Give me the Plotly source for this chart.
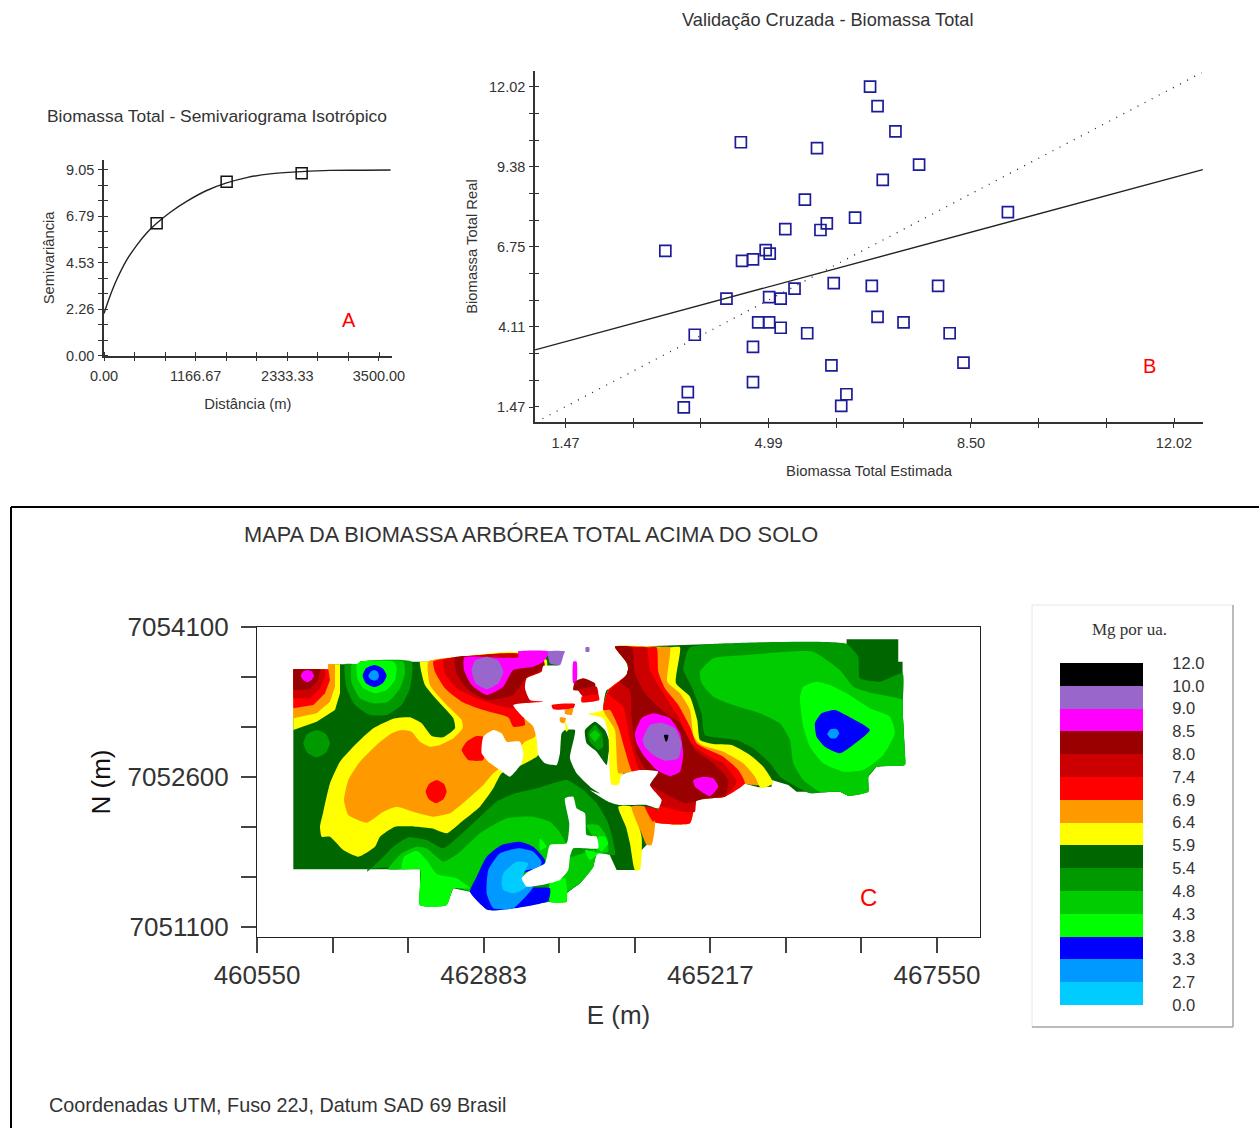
import plotly.graph_objects as go

W, H = 1259, 1128

# ---------- A: semivariogram ----------
model_dist = [0, 76, 161, 288, 416, 543, 670, 840, 1052, 1307, 1561, 1816, 2113, 2516, 2876, 3300, 3648]
model_gamma = [2.06, 2.90, 3.70, 4.66, 5.38, 5.98, 6.45, 6.98, 7.52, 8.05, 8.42, 8.68, 8.86, 8.97, 9.03, 9.04, 9.05]
lag_dist = [670, 1561, 2516]
lag_gamma = [6.45, 8.48, 8.89]
a_xticks = [0, 388.89, 777.78, 1166.67, 1555.56, 1944.44, 2333.33, 2722.22, 3111.11, 3500]
a_xtext = ["0.00", "", "", "1166.67", "", "", "2333.33", "", "", "3500.00"]
a_yticks = [0, 0.754, 1.508, 2.26, 3.017, 3.771, 4.53, 5.279, 6.033, 6.79, 7.542, 8.296, 9.05]
a_ytext = ["0.00", "", "", "2.26", "", "", "4.53", "", "", "6.79", "", "", "9.05"]

# ---------- B: cross validation ----------
est = [6.75, 6.88, 7.19, 4.51, 5.83, 7.60, 6.97, 5.62, 6.49, 6.00, 5.89, 5.28, 9.14, 3.20, 4.94, 5.01, 4.72, 4.53,
       6.78, 7.93, 6.12, 5.44, 5.00, 5.20, 4.26, 6.88, 7.33, 4.81, 5.00, 5.20, 5.66, 3.71, 8.13, 4.72, 8.37, 6.08,
       4.72, 3.59, 6.34, 3.52, 6.25]
real = [12.02, 11.38, 10.55, 10.19, 10.00, 9.45, 8.95, 8.30, 7.71, 7.52, 7.30, 7.33, 7.89, 6.61, 6.64, 6.52, 6.33, 6.28,
        5.46, 5.46, 5.55, 5.37, 5.09, 5.04, 5.04, 4.44, 4.26, 4.26, 4.26, 4.08, 3.90, 3.85, 3.90, 3.45, 2.93, 2.84,
        2.29, 1.96, 1.89, 1.46, 1.51]
reg_x = [0.94, 12.52]
reg_y = [3.35, 9.29]
ident_x = [1.07, 12.50]
ident_y = [1.085, 12.48]
b_xticks = [1.47, 2.642, 3.814, 4.99, 6.16, 7.33, 8.50, 9.67, 10.85, 12.02]
b_xtext = ["1.47", "", "", "4.99", "", "", "8.50", "", "", "12.02"]
b_yticks = [1.47, 2.349, 3.228, 4.11, 4.987, 5.866, 6.75, 7.625, 8.50, 9.38, 10.26, 11.14, 12.02]
b_ytext = ["1.47", "", "", "4.11", "", "", "6.75", "", "", "9.38", "", "", "12.02"]

# ---------- C: map classes ----------
class_edges = ["0.0", "2.7", "3.3", "3.8", "4.3", "4.8", "5.4", "5.9", "6.4", "6.9", "7.4", "8.0", "8.5", "9.0", "10.0", "12.0"]
class_colors = ["#00ccff", "#0099ff", "#0000ff", "#00ff00", "#00cc00", "#009900", "#006600",
                "#ffff00", "#ff9900", "#ff0000", "#cc0000", "#990000", "#ff00ff", "#9966cc", "#000000"]
c_xticks = [460550, 461328, 462106, 462883, 463661, 464439, 465217, 465994, 466772, 467550]
c_xtext = ["460550", "", "", "462883", "", "", "465217", "", "", "467550"]
c_yticks = [7051100, 7051600, 7052100, 7052600, 7053100, 7053600, 7054100]
c_ytext = ["7051100", "", "", "7052600", "", "", "7054100"]

SHEET_E0, SHEET_N0, SHEET_DE, SHEET_DN = 460786.8, 7054070.0, 3.431, 3.3333
EAST_SHEET = 930  # second sheet starts 930 units to the east

DG, MG, LG, BG = "#006600", "#009900", "#00cc00", "#00ff00"
BL, SB, CY = "#0000ff", "#0099ff", "#00ccff"
YE, OR, RE, CR, DR, MA, PU, BK = "#ffff00", "#ff9900", "#ff0000", "#cc0000", "#990000", "#ff00ff", "#9966cc", "#000000"
NO = "#ffffff"  # no data

west_layers = [
 (DG, [(40,118),(145,118),(145,103),(240,103),(240,95),(440,95),(525,82),(715,82),(715,65),(855,65),(1010,52),(1298,42),(1700,42),(1700,28),(1855,28),(1855,95),(1868,95),(1868,235),(1875,370),(1875,405),(1790,410),(1765,440),(1765,485),(1705,497),(1680,485),(1550,485),(1525,465),(1475,450),(1475,470),(1435,472),(1390,460),(1335,500),(1250,510),(1230,580),(1125,575),(1105,640),(1080,665),(1065,720),(1010,720),(985,665),(950,670),(940,710),(900,760),(860,790),(860,815),(810,815),(625,840),(570,785),(520,775),(500,825),(420,825),(420,718),(40,718)]),
 (YE, [(40,300),(110,275),(165,240),(180,190),(180,103),(145,103),(145,118),(40,118)]),
 (OR, [(40,265),(110,250),(150,215),(165,170),(165,103),(145,103),(145,118),(40,118)]),
 (RE, [(40,235),(100,225),(135,190),(150,150),(145,118),(40,118)]),
 (CR, [(40,205),(90,205),(120,175),(135,140),(135,118),(40,118)]),
 (DR, [(40,180),(90,178),(115,150),(120,118),(40,118)]),
 (MA, [(62,138),(70,124),(82,120),(95,124),(102,138),(95,150),(82,157),(70,150)]),
 (MG, [(195,103),(200,175),(225,225),(270,255),(320,255),(365,225),(390,175),(395,95),(240,95),(240,103)]),
 (LG, [(215,103),(215,160),(240,205),(280,220),(325,215),(360,175),(375,130),(370,95),(240,95),(240,103)]),
 (BG, [(230,103),(232,145),(250,175),(285,190),(320,180),(345,150),(350,110),(340,95),(240,95)]),
 (BL, [(248,137),(258,115),(283,105),(308,115),(320,137),(308,160),(283,172),(258,160)]),
 (SB, [(265,137),(272,125),(283,120),(293,125),(297,137),(293,148),(283,152),(272,148)]),
 (MG, [(70,340),(82,312),(110,300),(138,312),(150,340),(138,368),(110,382),(82,368)]),
 (YE, [(420,95),(435,165),(480,220),(520,265),(525,295),(490,322),(455,318),(425,280),(390,262),(345,265),(280,295),(225,345),(180,395),(150,460),(130,545),(120,590),(125,620),(150,620),(190,660),(235,680),(285,650),(300,620),(345,590),(410,590),(455,595),(500,610),(545,575),(600,530),(640,475),(665,430),(725,405),(775,375),(775,250),(800,90),(700,65),(525,82),(440,95)]),
 (OR, [(445,95),(450,165),(500,225),(545,270),(548,295),(520,325),(480,345),(450,350),(420,335),(395,305),(365,300),(335,310),(290,345),(240,395),(205,450),(192,510),(205,555),(260,578),(310,545),(350,530),(400,545),(460,560),(510,550),(560,510),(610,465),(640,430),(680,400),(735,335),(765,320),(780,250),(790,90),(700,70),(520,82)]),
 (RE, [(460,95),(465,125),(495,175),(545,215),(610,240),(685,262),(700,290),(735,285),(730,240),(790,225),(790,90),(700,70),(525,82)]),
 (CR, [(490,90),(495,130),(530,175),(590,205),(650,225),(705,235),(745,215),(790,205),(790,90),(700,70),(525,82)]),
 (DR, [(525,82),(530,130),(560,175),(620,210),(700,195),(740,140),(765,130),(790,110),(790,90),(715,65),(715,82)]),
 (MA, [(553,82),(552,120),(575,165),(620,195),(670,170),(700,120),(760,110),(790,95),(810,65),(715,65),(715,82)]),
 (PU, [(575,120),(585,92),(620,80),(655,92),(670,125),(655,160),(620,178),(587,160)]),
 (PU, [(805,65),(855,65),(840,105),(810,100)]),
 (RE, [(437,485),(447,462),(470,450),(492,462),(500,485),(490,508),(468,520),(447,508)]),
 (RE, [(545,360),(560,335),(590,318),(615,322),(610,390),(565,390)]),
 (MG, [(262,725),(300,690),(340,650),(385,622),(440,630),(490,655),(530,625),(590,570),(650,515),(700,492),(770,475),(860,450),(910,480),(950,520),(985,580),(1005,675),(950,670),(940,710),(900,760),(860,790),(860,815),(810,815),(625,840),(570,785),(520,775),(500,825),(420,825),(420,718),(262,718)]),
 (LG, [(325,718),(365,670),(410,650),(440,655),(490,695),(535,670),(600,610),(680,565),(760,560),(810,575),(835,600),(860,650),(800,700),(625,840),(570,785),(520,775),(500,825),(420,825),(420,718)]),
 (LG, [(880,680),(945,660),(940,710),(900,760),(860,790),(860,815),(810,815),(810,760),(840,750),(865,720),(870,680)]),
 (LG, [(920,585),(955,585),(980,620),(985,665),(950,670),(950,640)]),
 (BG, [(365,718),(372,680),(410,662),(440,690),(470,732),(530,745),(570,775),(520,775),(500,825),(420,825),(420,718)]),
 (BG, [(810,760),(855,745),(860,815),(810,815)]),
 (BG, [(915,660),(955,670),(930,690)]),
 (BG, [(955,620),(975,620),(985,640),(965,665),(955,655)]),
 (BG, [(780,625),(800,650),(780,660)]),
 (BL, [(570,785),(590,740),(620,680),(665,645),(720,635),(760,650),(795,690),(790,715),(730,730),(740,770),(810,775),(805,812),(625,840)]),
 (SB, [(620,790),(625,720),(660,670),(715,655),(760,665),(785,695),(780,712),(730,725),(730,765),(760,770),(700,835),(640,835)]),
 (CY, [(665,760),(670,730),(710,695),(745,700),(730,735),(740,770),(700,790),(670,780)]),
 (NO, [(610,320),(640,300),(665,310),(680,335),(720,335),(730,370),(725,400),(690,440),(660,420),(625,395),(605,370)]),
 (NO, [(855,505),(880,500),(890,535),(915,550),(920,615),(950,620),(955,655),(880,655),(870,680),(865,720),(840,750),(810,760),(740,770),(725,745),(745,725),(795,700),(810,645),(860,640),(868,580)]),
 (NO, [(740,145),(785,125),(790,108),(840,105),(855,65),(880,52),(1010,50),(1040,100),(1045,125),(1005,170),(980,180),(970,235),(1000,300),(1000,400),(1020,470),(1015,520),(960,490),(930,470),(890,430),(870,385),(885,300),(855,300),(845,310),(840,370),(830,405),(795,400),(775,375),(770,325),(760,290),(730,262),(700,225),(790,215),(750,210),(735,175)]),
 (MA, [(880,95),(890,95),(890,155),(880,160)]),
 (DR, [(880,180),(885,155),(910,145),(945,160),(945,180)]),
 (CR, [(895,180),(950,170),(955,200),(910,200)]),
 (RE, [(905,200),(955,195),(958,210),(905,217)]),
 (RE, [(815,225),(885,222),(880,235),(820,238)]),
 (OR, [(855,240),(880,235),(875,255),(855,252)]),
 (OR, [(840,262),(858,265),(852,280),(840,275)]),
 (YE, [(855,270),(865,300),(858,305)]),
 (PU, [(917,52),(928,52),(928,65),(917,65)]),
 (DG, [(915,300),(945,275),(975,300),(990,340),(985,375),(980,405),(950,365),(920,340)]),
 (MG, [(925,310),(945,285),(965,310),(970,350),(955,360),(930,335)]),
 (LG, [(930,315),(945,300),(960,315),(945,335)]),
]

east_layers = [
 (MG, [(300,52),(368,42),(770,42),(805,80),(810,145),(870,155),(938,130),(938,235),(945,370),(945,405),(860,410),(835,440),(835,485),(775,497),(750,485),(660,490),(620,470),(570,440),(540,400),(490,355),(440,330),(345,315),(335,250),(305,170),(280,120),(290,70)]),
 (LG, [(330,125),(370,85),(470,75),(590,65),(670,65),(750,120),(790,170),(850,190),(938,210),(938,235),(945,370),(945,405),(860,410),(835,440),(835,485),(775,497),(750,485),(690,485),(640,450),(610,400),(600,330),(570,280),(510,250),(430,225),(370,200),(335,160)]),
 (BG, [(630,200),(640,170),(680,155),(720,165),(770,190),(840,235),(900,260),(915,310),(880,375),(820,420),(760,425),(700,400),(660,350),(640,290),(632,230)]),
 (BL, [(675,280),(695,250),(735,240),(780,262),(840,300),(790,345),(750,370),(705,350),(680,320)]),
 (SB, [(712,312),(722,298),(740,297),(748,310),(738,325),(722,325)]),
 (YE, [(240,52),(270,52),(258,160),(300,200),(322,270),(330,330),(370,342),(425,345),(480,375),(520,410),(550,460),(515,475),(500,460),(460,462),(405,500),(320,510),(300,580),(190,575),(205,540),(215,510),(180,470),(205,425),(100,430),(85,465),(65,465),(58,400),(55,310),(40,265),(-5,252),(40,240),(55,180),(110,135),(115,105),(75,50)]),
 (OR, [(200,52),(240,52),(232,155),(270,190),(300,240),(312,320),(335,345),(400,365),(460,400),(495,440),(505,465),(460,462),(405,500),(320,510),(300,580),(190,575),(205,540),(215,510),(180,470),(205,425),(100,430),(85,430),(75,300),(40,240),(55,180),(110,135),(115,105),(75,50)]),
 (RE, [(170,52),(200,52),(205,125),(225,175),(265,225),(300,290),(320,340),(345,355),(400,380),(445,420),(465,460),(405,500),(320,510),(300,580),(190,575),(205,540),(215,510),(180,470),(205,425),(130,430),(105,360),(85,290),(60,240),(40,240),(55,180),(110,135),(115,105),(75,50)]),
 (CR, [(125,52),(170,52),(180,120),(220,190),(265,260),(305,340),(350,375),(400,400),(440,455),(405,500),(320,510),(315,545),(280,545),(190,520),(215,510),(180,470),(205,425),(150,420),(120,330),(100,230),(55,190),(110,135),(115,105),(75,50)]),
 (DR, [(75,50),(125,52),(135,130),(165,190),(215,240),(270,280),(315,360),(370,400),(415,450),(405,495),(345,505),(290,520),(215,485),(180,465),(205,425),(170,420),(140,370),(125,260),(120,180),(90,155),(110,135),(115,105)]),
 (MA, [(135,310),(155,265),(190,250),(240,265),(270,310),(280,370),(270,425),(240,438),(200,420),(160,375),(140,340)]),
 (PU, [(158,330),(180,285),(215,278),(255,295),(275,340),(265,385),(225,392),(190,375),(165,350)]),
 (BK, [(222,315),(235,315),(232,332),(228,335)]),
 (MA, [(310,450),(340,440),(370,445),(385,470),(360,498),(335,485),(315,470)]),
 (YE, [(85,530),(125,530),(155,620),(150,720),(135,720),(120,640),(108,590)]),
 (OR, [(125,530),(165,530),(195,575),(185,645),(170,645),(155,610)]),
 (RE, [(165,530),(190,575),(205,540)]),
 (NO, [(85,465),(95,435),(150,420),(205,425),(180,465),(215,510),(205,535),(170,525),(90,525),(55,515),(0,480),(30,490),(65,465)]),
]


def to_en(points, offset=0):
    xs = [SHEET_E0 + (p[0] + offset) * SHEET_DE for p in points]
    ys = [SHEET_N0 - p[1] * SHEET_DN for p in points]
    return xs + xs[:1], ys + ys[:1]


def hdom(a, b):
    return [a / W, b / W]


def vdom(top, bottom):
    return [1 - bottom / H, 1 - top / H]


FONT = "Liberation Sans"
INK = "#333333"
fig = go.Figure()

# A
fig.add_trace(go.Scatter(x=model_dist, y=model_gamma, mode="lines", line=dict(color="#222222", width=1.4, shape="spline"),
                         xaxis="x", yaxis="y", showlegend=False))
fig.add_trace(go.Scatter(x=lag_dist, y=lag_gamma, mode="markers", marker=dict(symbol="square-open", size=11, color="#111111", line=dict(width=1.5)),
                         xaxis="x", yaxis="y", showlegend=False))
# B
fig.add_trace(go.Scatter(x=ident_x, y=ident_y, mode="lines", line=dict(color="#222222", width=1.3, dash="1px,7px"),
                         xaxis="x2", yaxis="y2", showlegend=False))
fig.add_trace(go.Scatter(x=reg_x, y=reg_y, mode="lines", line=dict(color="#222222", width=1.4),
                         xaxis="x2", yaxis="y2", showlegend=False))
fig.add_trace(go.Scatter(x=est, y=real, mode="markers", marker=dict(symbol="square-open", size=11, color="#1c1c99", line=dict(width=1.7)),
                         xaxis="x2", yaxis="y2", showlegend=False))
# C: outlines touching the map's square edge keep their corners, the rest are contours
for color, pts, off in [(c, p, 0) for c, p in west_layers] + [(c, p, EAST_SHEET) for c, p in east_layers]:
    xs, ys = to_en(pts, off)
    square = off == 0 and pts[0][0] == 40
    line = dict(width=0, color=color) if square else dict(width=0, color=color, shape="spline", smoothing=0.5)
    fig.add_trace(go.Scatter(x=xs, y=ys, mode="lines", fill="toself", fillcolor=color, line=line,
                             hoverinfo="skip", xaxis="x3", yaxis="y3", showlegend=False))
# Legend
n = len(class_colors)
scale = []
for i, c in enumerate(class_colors):
    scale += [[i / n, c], [(i + 1) / n, c]]
fig.add_trace(go.Heatmap(z=[[i + 0.5] for i in range(n)], x=[0], y=list(range(n)), colorscale=scale, zmin=0, zmax=n,
                         showscale=False, xaxis="x4", yaxis="y4", hoverinfo="skip"))


def small_axis(dom, rng, ticks, text, title, standoff, anchor, label_gap=0):
    # second tick set sits a hair off the first so the ticks cross the axis line
    nudge = (rng[1] - rng[0]) * 1e-4
    return dict(domain=dom, range=rng, anchor=anchor, automargin=False, tickmode="array", tickvals=ticks, ticktext=text,
                ticks="outside", ticklen=4, tickwidth=1.4, tickcolor=INK, showline=True, linecolor=INK, linewidth=1.5,
                showgrid=False, zeroline=False, tickfont=dict(family=FONT, size=14.5, color=INK), ticklabelstandoff=label_gap,
                title=dict(text=title, font=dict(family=FONT, size=14.8, color=INK), standoff=standoff),
                minor=dict(ticks="inside", ticklen=4, tickwidth=1.4, tickcolor=INK, tickmode="array",
                           tickvals=[t + nudge for t in ticks], showgrid=False))


def note(text, x, y, size, color=INK, family=FONT, xanchor="center"):
    return dict(text=text, xref="paper", yref="paper", x=x / W, y=1 - y / H, xanchor=xanchor, yanchor="middle",
                showarrow=False, font=dict(family=family, size=size, color=color))


layout = dict(
    width=W, height=H, margin=dict(l=0, r=0, t=0, b=0, autoexpand=False), autosize=False, template="none",
    paper_bgcolor="white", plot_bgcolor="white", showlegend=False,
    xaxis=small_axis(hdom(104, 391.7), [0, 3662], a_xticks, a_xtext, "Distância (m)", 16, "y", 2),
    yaxis=small_axis(vdom(160, 355.7), [0, 9.537], a_yticks, a_ytext, "Semivariância", 8, "x", 1),
    xaxis2=small_axis(hdom(535, 1203), [0.94, 12.523], b_xticks, b_xtext, "Biomassa Total Estimada", 15, "y2", 3),
    yaxis2=small_axis(vdom(71, 422), [0.976, 12.537], b_yticks, b_ytext, "Biomassa Total Real", 8, "x2", 1),
    xaxis3=dict(domain=hdom(257, 980), range=[460550, 467993], anchor="y3", automargin=False, tickmode="array", tickvals=c_xticks, ticktext=c_xtext,
                ticks="outside", ticklen=15, tickwidth=1.5, tickcolor="#444444", showline=True, linecolor="#222222", linewidth=1, mirror=True,
                showgrid=False, zeroline=False, tickfont=dict(family=FONT, size=26, color=INK),
                title=dict(text="E (m)", font=dict(family=FONT, size=26, color=INK), standoff=16)),
    yaxis3=dict(domain=vdom(627, 937), range=[7051000, 7054100], anchor="x3", automargin=False, tickmode="array", tickvals=c_yticks, ticktext=c_ytext,
                ticks="outside", ticklen=15, tickwidth=1.5, tickcolor="#444444", showline=True, linecolor="#222222", linewidth=1, mirror=True,
                showgrid=False, zeroline=False, tickfont=dict(family=FONT, size=26, color=INK), ticklabelstandoff=7,
                title=dict(text="N (m)", font=dict(family=FONT, size=26, color="#111111"), standoff=9)),
    xaxis4=dict(domain=hdom(1060, 1143), anchor="y4", visible=False, range=[-0.5, 0.5]),
    yaxis4=dict(domain=vdom(663, 1005), range=[-0.5, n - 0.5], anchor="x4", side="right", automargin=False, tickmode="array",
                tickvals=[i - 0.5 for i in range(n + 1)], ticktext=class_edges, ticks="outside", ticklen=25, tickcolor="rgba(0,0,0,0)",
                showline=False, showgrid=False, zeroline=False, tickfont=dict(family=FONT, size=16.5, color=INK)),
    shapes=[
        dict(type="line", xref="paper", yref="paper", x0=11 / W, x1=1, y0=1 - 507 / H, y1=1 - 507 / H, line=dict(color="black", width=2)),
        dict(type="line", xref="paper", yref="paper", x0=11 / W, x1=11 / W, y0=0, y1=1 - 507 / H, line=dict(color="black", width=2)),
        dict(type="rect", xref="paper", yref="paper", x0=1032 / W, x1=1233 / W, y0=1 - 1027 / H, y1=1 - 605 / H,
             line=dict(color="#e6e6e6", width=1), fillcolor="white", layer="below"),
        dict(type="line", xref="paper", yref="paper", x0=1233 / W, x1=1233 / W, y0=1 - 1027 / H, y1=1 - 605 / H, line=dict(color="#a8a8a8", width=1.5)),
        dict(type="line", xref="paper", yref="paper", x0=1032 / W, x1=1233 / W, y0=1 - 1027 / H, y1=1 - 1027 / H, line=dict(color="#a8a8a8", width=1.5)),
    ],
    annotations=[
        note("Biomassa Total - Semivariograma Isotrópico", 217, 116, 17.4),
        note("Validação Cruzada - Biomassa Total", 828, 20, 18.2),
        note("MAPA DA BIOMASSA ARBÓREA TOTAL ACIMA DO SOLO", 531, 535, 21.8),
        note("Coordenadas UTM, Fuso 22J, Datum SAD 69 Brasil", 47, 1105, 19.8, xanchor="left"),
        note("Mg por ua.", 1129, 630, 17, family="Liberation Serif"),
        dict(text="A", xref="x", yref="y", x=3118, y=1.74, showarrow=False, font=dict(family=FONT, size=20, color="#ff0000")),
        dict(text="B", xref="x2", yref="y2", x=11.59, y=2.82, showarrow=False, font=dict(family=FONT, size=20, color="#ff0000")),
        dict(text="C", xref="x3", yref="y3", x=466850, y=7051400, showarrow=False, font=dict(family=FONT, size=24, color="#ff0000")),
    ],
)
fig.update_layout(**layout)
fig.write_html("out.html", config={"displayModeBar": False}, post_script="document.body.style.margin='0';")
